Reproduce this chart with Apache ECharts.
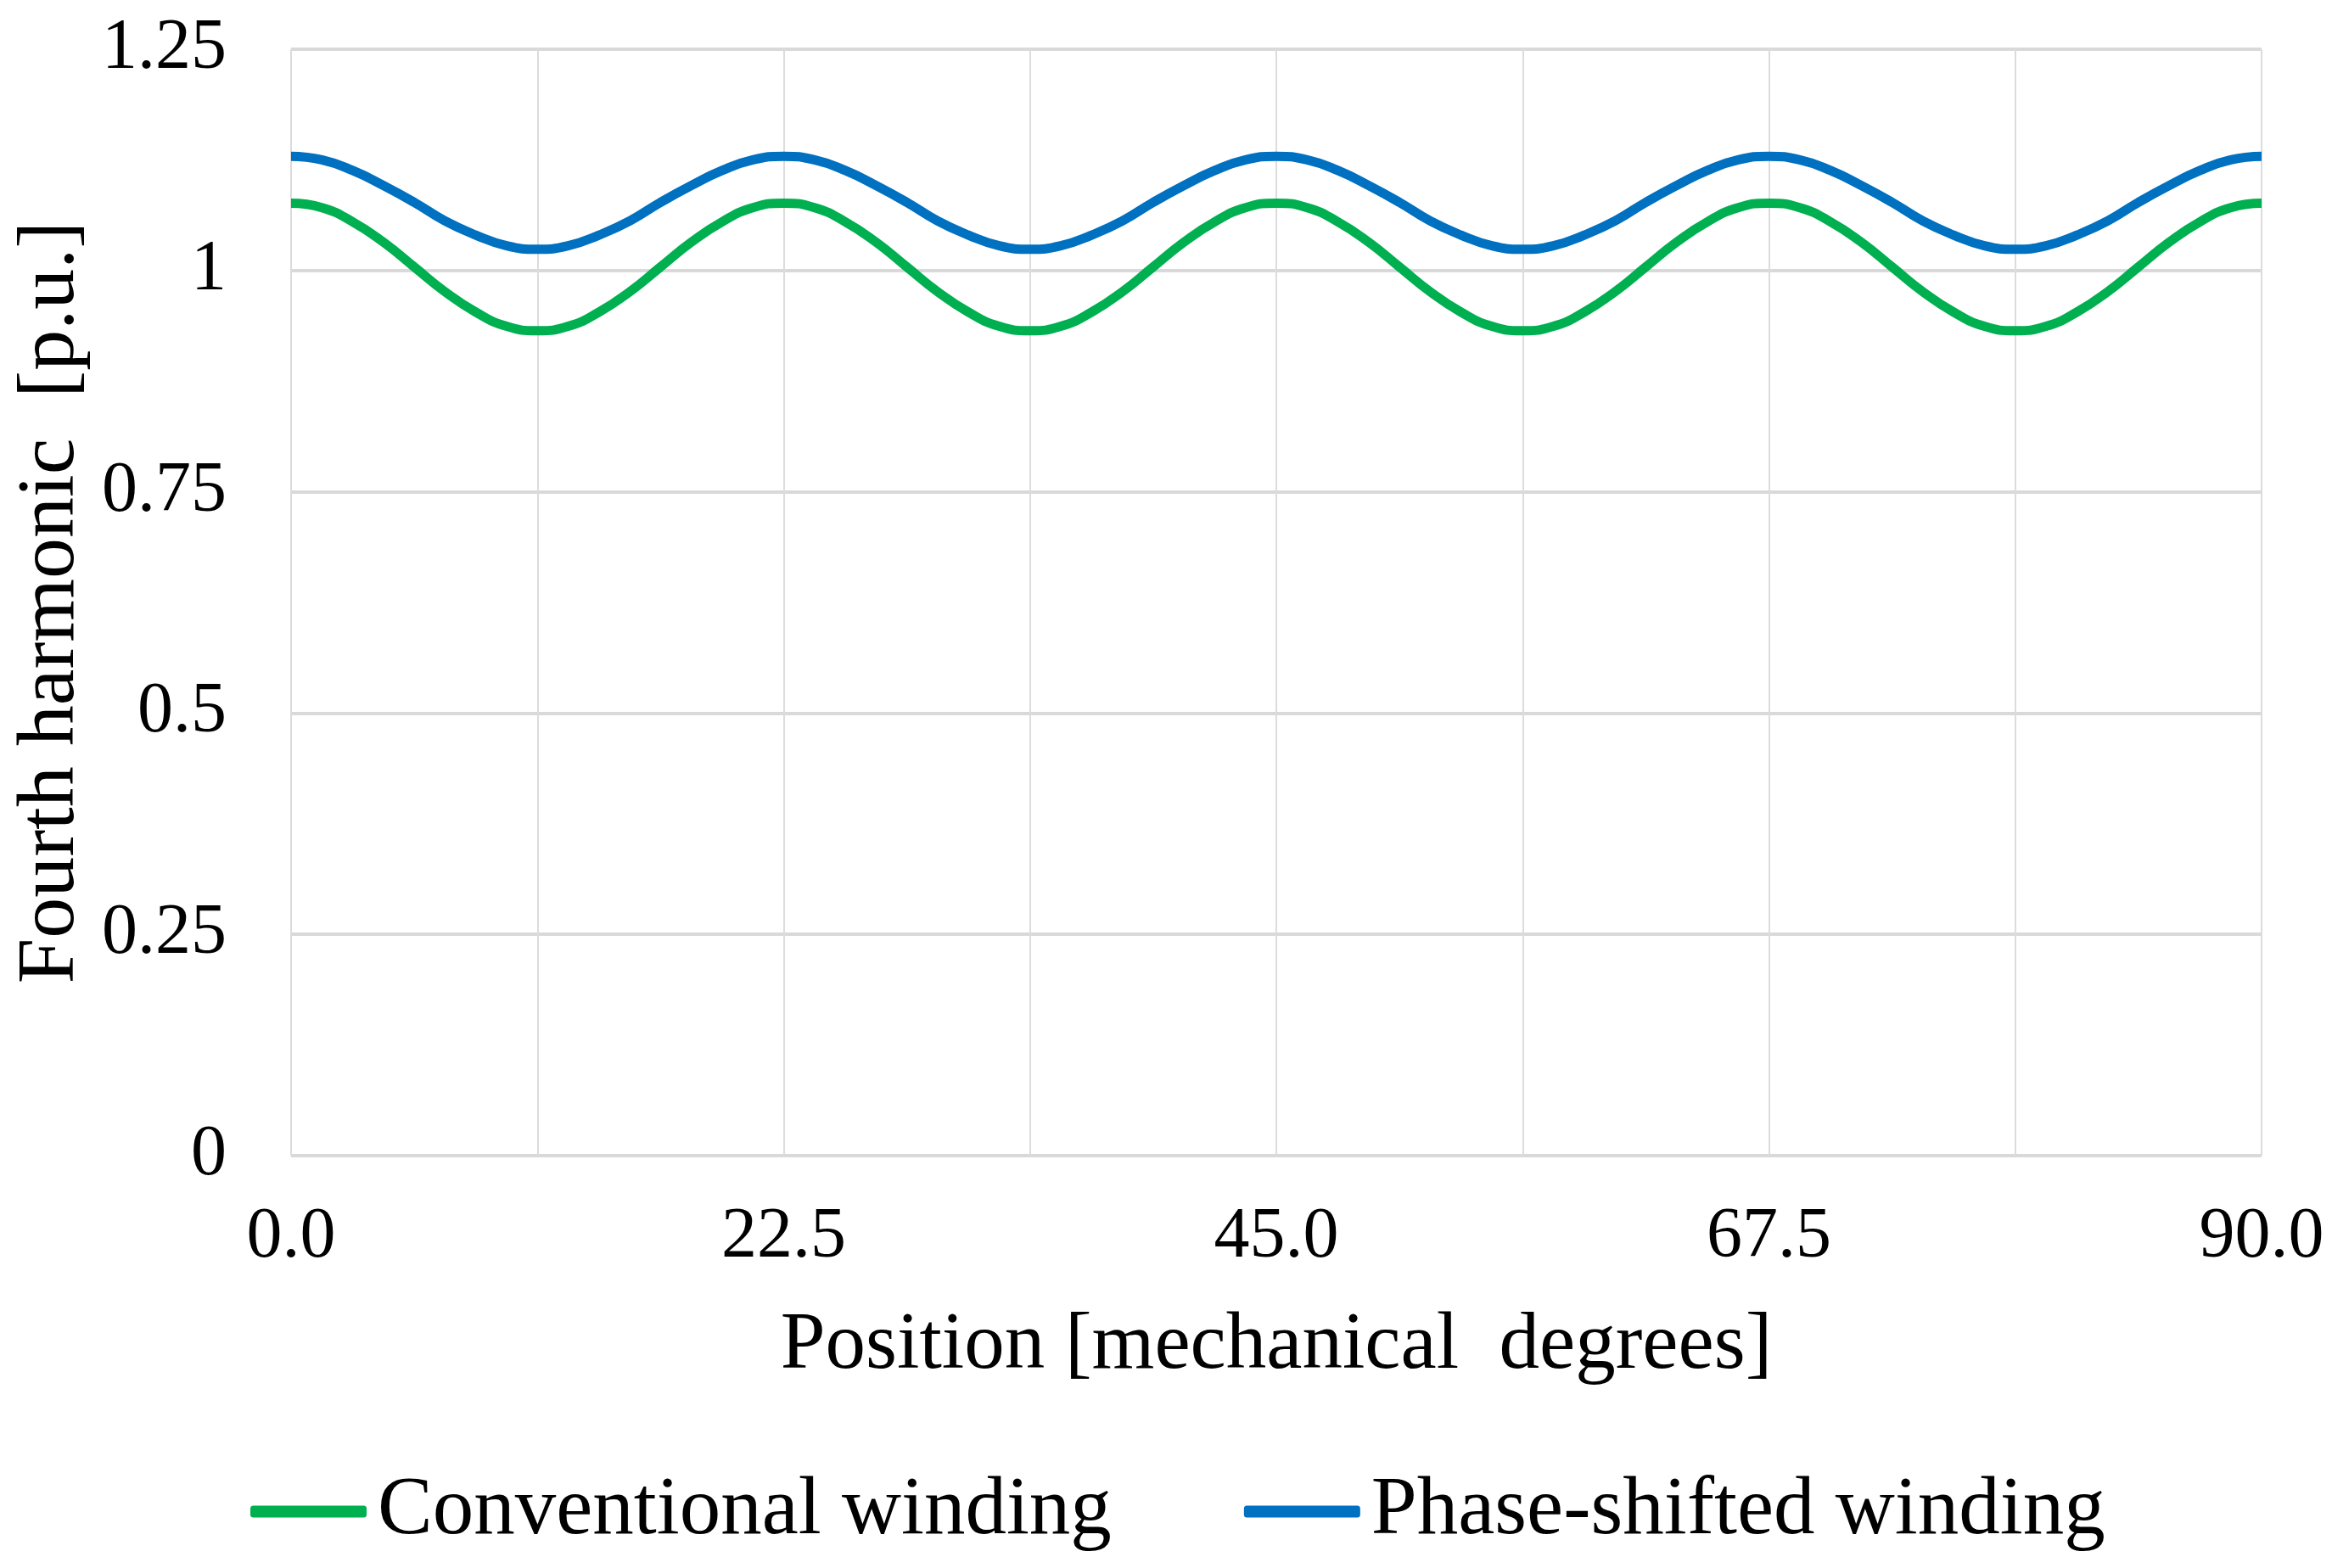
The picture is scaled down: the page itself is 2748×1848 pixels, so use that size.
<!DOCTYPE html>
<html>
<head>
<meta charset="utf-8">
<script src="https://cdn.jsdelivr.net/npm/echarts@6/dist/echarts.min.js"></script>
<style>
html,body{margin:0;padding:0;background:#fff;}
#chart{width:2748px;height:1848px;}
</style>
</head>
<body>
<div id="chart"></div>
<script>
// Position in mechanical degrees (read every 1.40625 deg)
var positions = [0, 1.40625, 2.8125, 4.21875, 5.625, 7.03125, 8.4375, 9.84375,
  11.25, 12.65625, 14.0625, 15.46875, 16.875, 18.28125, 19.6875, 21.09375,
  22.5, 23.90625, 25.3125, 26.71875, 28.125, 29.53125, 30.9375, 32.34375,
  33.75, 35.15625, 36.5625, 37.96875, 39.375, 40.78125, 42.1875, 43.59375,
  45, 46.40625, 47.8125, 49.21875, 50.625, 52.03125, 53.4375, 54.84375,
  56.25, 57.65625, 59.0625, 60.46875, 61.875, 63.28125, 64.6875, 66.09375,
  67.5, 68.90625, 70.3125, 71.71875, 73.125, 74.53125, 75.9375, 77.34375,
  78.75, 80.15625, 81.5625, 82.96875, 84.375, 85.78125, 87.1875, 88.59375, 90];

var conventional = [1.076, 1.071, 1.055, 1.032, 1.004, 0.976, 0.953, 0.937,
  0.932, 0.937, 0.953, 0.976, 1.004, 1.032, 1.055, 1.071,
  1.076, 1.071, 1.055, 1.032, 1.004, 0.976, 0.953, 0.937,
  0.932, 0.937, 0.953, 0.976, 1.004, 1.032, 1.055, 1.071,
  1.076, 1.071, 1.055, 1.032, 1.004, 0.976, 0.953, 0.937,
  0.932, 0.937, 0.953, 0.976, 1.004, 1.032, 1.055, 1.071,
  1.076, 1.071, 1.055, 1.032, 1.004, 0.976, 0.953, 0.937,
  0.932, 0.937, 0.953, 0.976, 1.004, 1.032, 1.055, 1.071, 1.076];

var phaseShifted = [1.129, 1.125, 1.113, 1.096, 1.077, 1.056, 1.040, 1.028,
  1.024, 1.028, 1.040, 1.056, 1.077, 1.096, 1.113, 1.125,
  1.129, 1.125, 1.113, 1.096, 1.077, 1.056, 1.040, 1.028,
  1.024, 1.028, 1.040, 1.056, 1.077, 1.096, 1.113, 1.125,
  1.129, 1.125, 1.113, 1.096, 1.077, 1.056, 1.040, 1.028,
  1.024, 1.028, 1.040, 1.056, 1.077, 1.096, 1.113, 1.125,
  1.129, 1.125, 1.113, 1.096, 1.077, 1.056, 1.040, 1.028,
  1.024, 1.028, 1.040, 1.056, 1.077, 1.096, 1.113, 1.125, 1.129];

var xTickLabels = ['0.0', '22.5', '45.0', '67.5', '90.0'];
var yTickLabels = ['0', '0.25', '0.5', '0.75', '1', '1.25'];
var seriesNames = ['Conventional winding', 'Phase-shifted winding'];

function pairs(xs, ys) {
  return xs.map(function (x, i) { return [x, ys[i]]; });
}

var FONT = '"Liberation Serif", "Times New Roman", serif';
var chart = echarts.init(document.getElementById('chart'), null, {renderer: 'canvas'});
chart.setOption({
  backgroundColor: '#ffffff',
  animation: false,
  textStyle: {fontFamily: FONT, color: '#000'},
  grid: {left: 343, right: 83, top: 58, bottom: 486, containLabel: false},
  legend: {
    data: seriesNames,
    left: 290,
    top: 1728,
    itemWidth: 137,
    itemHeight: 14,
    itemGap: 156,
    icon: 'roundRect',
    textStyle: {fontFamily: FONT, fontSize: 97, color: '#000', padding: [0, 0, 0, 8]}
  },
  xAxis: {
    type: 'value',
    min: 0,
    max: 90,
    interval: 11.25,
    name: 'Position [mechanical  degrees]',
    nameLocation: 'middle',
    nameGap: 178,
    nameTextStyle: {fontFamily: FONT, fontSize: 95, color: '#000'},
    axisLine: {show: false},
    axisTick: {show: false},
    axisLabel: {
      margin: 55,
      fontFamily: FONT,
      fontSize: 84,
      color: '#000',
      formatter: function (v) {
        var idx = Math.round(v / 22.5);
        return Math.abs(v - idx * 22.5) < 1e-6 ? xTickLabels[idx] : '';
      }
    },
    splitLine: {show: true, lineStyle: {color: '#dcdcdc', width: 2}}
  },
  yAxis: {
    type: 'value',
    min: 0,
    max: 1.25,
    interval: 0.25,
    name: 'Fourth harmonic  [p.u.]',
    nameLocation: 'middle',
    nameGap: 232,
    nameTextStyle: {fontFamily: FONT, fontSize: 96, color: '#000'},
    axisLine: {show: false},
    axisTick: {show: false},
    axisLabel: {
      margin: 76,
      fontFamily: FONT,
      fontSize: 84,
      color: '#000',
      formatter: function (v) { return yTickLabels[Math.round(v / 0.25)]; }
    },
    splitLine: {show: true, lineStyle: {color: '#d9d9d9', width: 4}}
  },
  series: [
    {
      name: seriesNames[0],
      type: 'line',
      data: pairs(positions, conventional),
      smooth: true,
      showSymbol: false,
      lineStyle: {color: '#00b050', width: 11},
      itemStyle: {color: '#00b050'}
    },
    {
      name: seriesNames[1],
      type: 'line',
      data: pairs(positions, phaseShifted),
      smooth: true,
      showSymbol: false,
      lineStyle: {color: '#0070c0', width: 11},
      itemStyle: {color: '#0070c0'}
    }
  ]
});
</script>
</body>
</html>
